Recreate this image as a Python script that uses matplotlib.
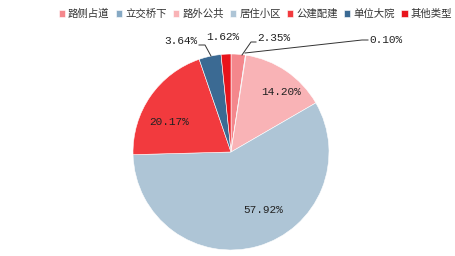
import numpy as np
import matplotlib.pyplot as plt

plt.rcParams['font.family'] = ['Noto Sans CJK SC', 'DejaVu Sans']

# 数据
categories = ['路侧占道', '立交桥下', '路外公共', '居住小区', '公建配建', '单位大院', '其他类型']
values = [2.35, 0.10, 14.20, 57.92, 20.17, 3.64, 1.62]
colors = ['#f4878c', '#86a9c4', '#f9b3b6', '#aec5d6', '#f23a3e', '#3b6a93', '#e8141c']

fig = plt.figure(figsize=(4.56, 2.56), dpi=100)
ax = fig.add_axes([0, 0, 1, 1])
ax.set_xlim(0, 456)
ax.set_ylim(0, 256)
ax.axis('off')

cx, cy, r = 231, 104, 98
wedges, _ = ax.pie(values, colors=colors, startangle=90, counterclock=False,
                   center=(cx, cy), radius=r, frame=True,
                   wedgeprops=dict(edgecolor='white', linewidth=0.4))
ax.set_xlim(0, 456)
ax.set_ylim(0, 256)
ax.axis('off')

lab_font = dict(family=['Liberation Mono', 'DejaVu Sans'], fontsize=8, color='#222222')

# 标签位置 (像素坐标, 从上往下)
def P(x, y):
    return (x, 256 - y)

# 大扇区标签
ax.text(*P(281, 92), f'{values[2]:.2f}%', ha='center', va='center', **lab_font)
ax.text(*P(263, 210), f'{values[3]:.2f}%', ha='center', va='center', **lab_font)
ax.text(*P(169, 122), f'{values[4]:.2f}%', ha='center', va='center', **lab_font)
ax.text(*P(223, 37), f'{values[6]:.2f}%', ha='center', va='center', **lab_font)

# 带引导线的标签
line_kw = dict(color='#333333', linewidth=0.7)
ax.plot(*zip(P(242, 55), P(251, 42), P(256, 42)), **line_kw)
ax.text(*P(257, 38), f'{values[0]:.2f}%', ha='left', va='center', **lab_font)

ax.plot(*zip(P(245, 53), P(362, 40), P(368, 40)), **line_kw)
ax.text(*P(369, 40), f'{values[1]:.2f}%', ha='left', va='center', **lab_font)

ax.plot(*zip(P(211, 56), P(205, 45), P(199, 45)), **line_kw)
ax.text(*P(197, 41), f'{values[5]:.2f}%', ha='right', va='center', **lab_font)

leg = fig.legend(wedges, categories, loc='center', bbox_to_anchor=(0.56, 1 - 14 / 256),
                 ncol=7, frameon=False, fontsize=7.5, handlelength=0.6, handleheight=0.6,
                 handletextpad=0.3, columnspacing=0.6, borderpad=0)
for t in leg.get_texts():
    t.set_color('#333333')

plt.savefig('out.png', dpi=100)
